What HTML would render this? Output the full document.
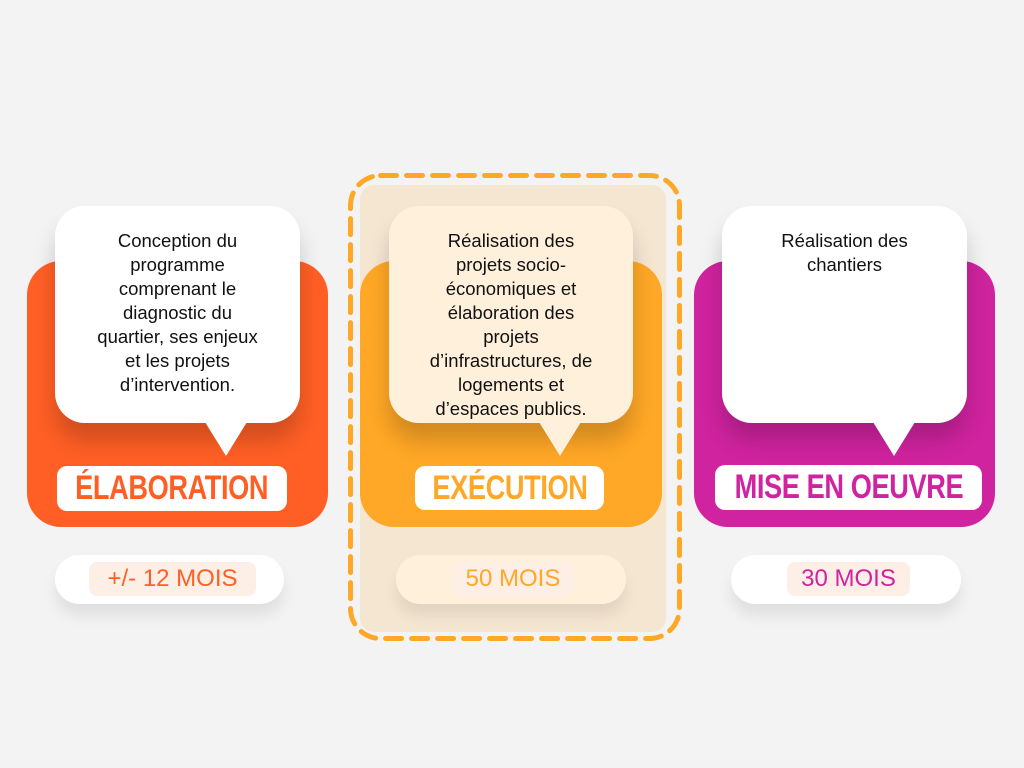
<!DOCTYPE html>
<html><head><meta charset="utf-8"><style>
*{margin:0;padding:0;box-sizing:border-box}
body{width:1024px;height:768px;background:#f3f3f3;position:relative;overflow:hidden;font-family:"Liberation Sans",sans-serif}
.a{position:absolute}
.card{border-radius:34px}
.bub{border-radius:30px;text-align:center;font-size:18.5px;line-height:24px;color:#111;padding-top:23px;box-shadow:0 18px 22px rgba(0,0,0,0.18);white-space:nowrap}
.tail{width:0;height:0;border-left:21px solid transparent;border-right:21px solid transparent;border-top:34px solid #fff}
.lab{background:#fff;border-radius:10px;display:flex;justify-content:center;font-weight:bold;font-size:34px;line-height:45px;white-space:nowrap}
.lab span{display:block;flex:none;transform:scaleX(0.8);letter-spacing:-0.5px}
.pill{border-radius:25px;background:#fff;box-shadow:0 12px 14px rgba(0,0,0,0.08)}
.in{border-radius:8px;background:#fdeee6;text-align:center;font-size:24px;line-height:34px;white-space:nowrap}
</style></head><body>
<div class="a" style="left:360px;top:185px;width:306px;height:447px;background:#f5e6d2;border-radius:14px"></div>
<svg class="a" style="left:0;top:0" width="1024" height="768"><rect x="350.5" y="175.5" width="329" height="463" rx="30" fill="none" stroke="#ffa726" stroke-width="5" stroke-dasharray="16 10" stroke-linecap="round"/></svg>

<div class="a card" style="left:27px;top:261px;width:301px;height:266px;background:#ff5f25"></div>
<div class="a bub" style="left:55px;top:206px;width:245px;height:217px;background:#fff">Conception du<br>programme<br>comprenant le<br>diagnostic du<br>quartier, ses enjeux<br>et les projets<br>d’intervention.</div>
<div class="a tail" style="left:205px;top:422px"></div>
<div class="a lab" style="left:57px;top:466px;width:230px;height:45px;color:#ff5f25"><span>ÉLABORATION</span></div>
<div class="a pill" style="left:55px;top:555px;width:229px;height:49px"></div>
<div class="a in" style="left:89px;top:562px;width:167px;height:34px;color:#ff5f25">+/- 12 MOIS</div>

<div class="a card" style="left:360px;top:261px;width:302px;height:266px;background:#ffa726"></div>
<div class="a bub" style="left:389px;top:206px;width:244px;height:217px;background:#fff0dc">Réalisation des<br>projets socio-<br>économiques et<br>élaboration des<br>projets<br>d’infrastructures, de<br>logements et<br>d’espaces publics.</div>
<div class="a tail" style="left:539px;top:422px;border-top-color:#fff0dc"></div>
<div class="a lab" style="left:415px;top:466px;width:189px;height:44px;color:#ffa726"><span>EXÉCUTION</span></div>
<div class="a pill" style="left:396px;top:555px;width:230px;height:49px;background:#fff0dc"></div>
<div class="a in" style="left:452px;top:562px;width:122px;height:34px;color:#ffa726;background:#fdeee6">50 MOIS</div>

<div class="a card" style="left:694px;top:261px;width:301px;height:266px;background:#d0239f"></div>
<div class="a bub" style="left:722px;top:206px;width:245px;height:217px;background:#fff">Réalisation des<br>chantiers</div>
<div class="a tail" style="left:873px;top:422px"></div>
<div class="a lab" style="left:715px;top:465px;width:267px;height:45px;color:#d0239f"><span>MISE EN OEUVRE</span></div>
<div class="a pill" style="left:731px;top:555px;width:230px;height:49px"></div>
<div class="a in" style="left:787px;top:562px;width:123px;height:34px;color:#d0239f">30 MOIS</div>
</body></html>
